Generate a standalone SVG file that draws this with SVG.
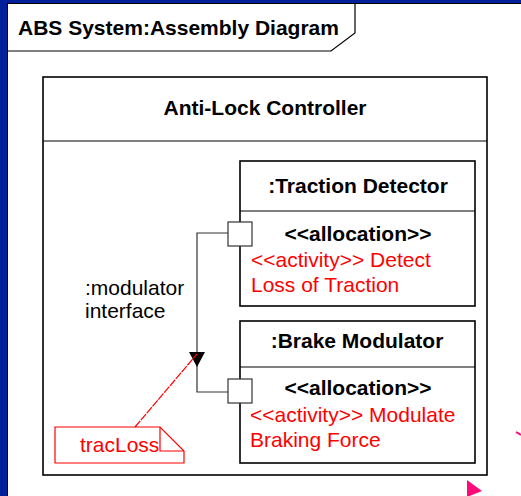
<svg xmlns="http://www.w3.org/2000/svg" width="521" height="496" viewBox="0 0 521 496">
<style>
text{font-family:"Liberation Sans",Arial,sans-serif;font-size:21px}
.b{font-weight:bold}
.r{fill:#ff0000}
.box{fill:#ffffff;stroke:#000000;stroke-width:1.6}
.port{fill:#ffffff;stroke:#333333;stroke-width:1.2}
.conn{fill:none;stroke:#333333;stroke-width:1.2}
</style>
<rect x="0" y="0" width="521" height="496" fill="#00209a"/>
<rect x="7.5" y="3.5" width="520" height="500" fill="#ffffff" stroke="#000000" stroke-width="1"/>
<g id="frame-label">
<path d="M7.5 51 H331 L355 33 V3.5" fill="none" stroke="#000000" stroke-width="1.2"/>
<text class="b" x="18" y="35">ABS System:Assembly Diagram</text>
</g>
<g id="anti-lock-controller">
<rect class="box" x="43" y="77" width="444" height="398"/>
<line x1="43" y1="141" x2="487" y2="141" stroke="#000000" stroke-width="1.2"/>
<text class="b" x="265" y="115" text-anchor="middle">Anti-Lock Controller</text>
</g>
<g id="modulator-interface-label">
<text x="85" y="295">:modulator</text>
<text x="85" y="318">interface</text>
</g>
<g id="traction-detector">
<rect class="box" x="240" y="161" width="235" height="145"/>
<line x1="240" y1="211" x2="475" y2="211" stroke="#000000" stroke-width="1.2"/>
<text class="b" x="358" y="193" text-anchor="middle">:Traction Detector</text>
<text class="b" x="358" y="241" text-anchor="middle">&lt;&lt;allocation&gt;&gt;</text>
<text class="r" x="251" y="267">&lt;&lt;activity&gt;&gt; Detect</text>
<text class="r" x="251" y="292">Loss of Traction</text>
</g>
<g id="brake-modulator">
<rect class="box" x="240" y="321" width="235" height="142"/>
<line x1="240" y1="367" x2="475" y2="367" stroke="#000000" stroke-width="1.2"/>
<text class="b" x="357" y="348" text-anchor="middle">:Brake Modulator</text>
<text class="b" x="358" y="395" text-anchor="middle">&lt;&lt;allocation&gt;&gt;</text>
<text class="r" x="250" y="422">&lt;&lt;activity&gt;&gt; Modulate</text>
<text class="r" x="250" y="447">Braking Force</text>
</g>
<g id="ports">
<rect class="port" x="228" y="222" width="24" height="24"/>
<rect class="port" x="228" y="379" width="24" height="24"/>
</g>
<g id="tracLoss-note">
<path d="M55 427 H160 L184 451 V463 H55 Z" fill="#ffffff" stroke="#ff0000" stroke-width="1.2"/>
<path d="M160 427 V451 H184" fill="none" stroke="#ff0000" stroke-width="1.2"/>
<text class="r" x="80" y="452">tracLoss</text>
</g>
<g id="connectors">
<path class="conn" d="M228 233 H197 V392 H228"/>
<polygon points="189,352 205,352 197,367" fill="#000000"/>
<line x1="135" y1="427" x2="197" y2="354" stroke="#ff0000" stroke-width="1.2" stroke-dasharray="8,1"/>
</g>
<g id="pink-marks">
<polygon points="467,480 482,491 467,497" fill="#ff0a78"/>
<line x1="516" y1="432" x2="521" y2="435" stroke="#ff0a78" stroke-width="2"/>
</g>
</svg>
